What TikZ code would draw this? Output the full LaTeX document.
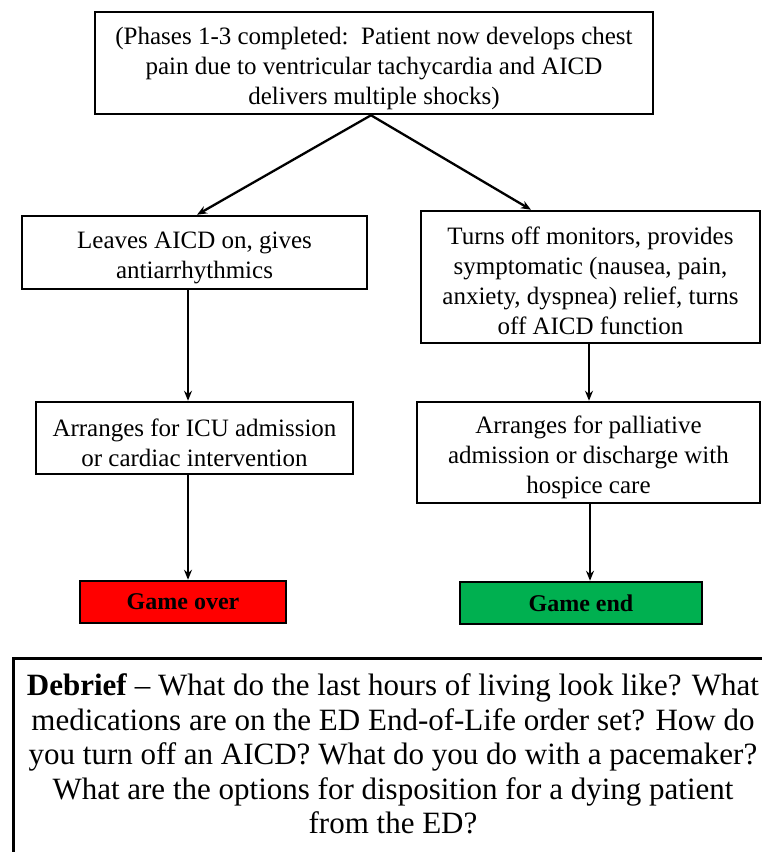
\documentclass[tikz,border=0pt]{standalone}
\usepackage{fontspec}
\setmainfont{Liberation Serif}
\usetikzlibrary{arrows.meta}
\definecolor{gored}{HTML}{FF0000}
\definecolor{gogreen}{HTML}{00B050}
\tikzset{
  box/.style={draw=black, line width=2.5pt, inner sep=0pt},
  txt/.style={align=center, inner sep=0pt, font=\fontsize{25}{30}\selectfont, yshift=-5pt},
  endbox/.style={draw=black, line width=2.5pt, align=center, inner sep=0pt, font=\fontsize{24}{26}\selectfont\bfseries},
  arr/.style={line width=2.3pt, -{Stealth[length=10pt,width=8pt]}},
}
\begin{document}
\begin{tikzpicture}[x=1pt,y=-1pt]
\useasboundingbox (0,0) rectangle (762,852);
\node[box, minimum width=558pt, minimum height=102pt,
  label={[txt]center:{(Phases 1-3 completed:\ \ Patient now develops chest\\pain due to ventricular tachycardia and AICD\\delivers multiple shocks)}}] (top) at (374,63) {};
\node[box, minimum width=345pt, minimum height=73pt,
  label={[txt]center:{Leaves AICD on, gives\\antiarrhythmics}}] (L1) at (194.5,252.5) {};
\node[box, minimum width=317pt, minimum height=72pt,
  label={[txt]center:{Arranges for ICU admission\\or cardiac intervention}}] (L2) at (194.5,438) {};
\node[box, minimum width=339pt, minimum height=132pt,
  label={[txt, yshift=1pt]center:{Turns off monitors, provides\\symptomatic (nausea, pain,\\anxiety, dyspnea) relief, turns\\off AICD function}}] (R1) at (590.5,277) {};
\node[box, minimum width=343pt, minimum height=101pt,
  label={[txt]center:{Arranges for palliative\\admission or discharge with\\hospice care}}] (R2) at (588.5,452.5) {};
\node[endbox, fill=gored, minimum width=206pt, minimum height=42pt] (GO) at (183,602) {Game over};
\node[endbox, fill=gogreen, minimum width=242pt, minimum height=42pt] (GE) at (581,603) {Game end};
\node[box, minimum width=770pt, minimum height=220pt, anchor=north west] (DB) at (12,657) {};
\node[align=center, font=\fontsize{31}{34.5}\selectfont] (DBt) at (393,754)
  {\textbf{Debrief} \textendash{} What do the last hours of living look like? What\\medications are on the ED End-of-Life order set? How do\\you turn off an AICD? What do you do with a pacemaker?\\What are the options for disposition for a dying patient\\from the ED?};
\coordinate (apex) at (top.south -| 371,0);
\draw[arr] (apex) -- (L1.north -| 197,0);
\draw[arr] (apex) -- (R1.north -| 531,0);
\draw[arr] (L1.south -| 188,0) -- (L2.north -| 188,0);
\draw[arr] (L2.south -| 188,0) -- (GO.north -| 188,0);
\draw[arr] (R1.south -| 589,0) -- (R2.north -| 589,0);
\draw[arr] (R2.south -| 590,0) -- (GE.north -| 590,0);
\end{tikzpicture}
\end{document}
